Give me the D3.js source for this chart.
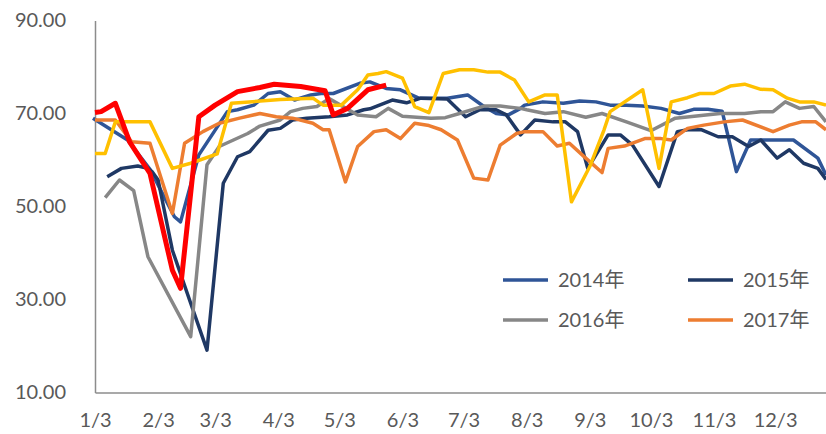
<!DOCTYPE html>
<html>
<head>
<meta charset="utf-8">
<script src="https://cdn.jsdelivr.net/npm/d3@7"></script>
<style>
  body { margin: 0; background: #fff; }
  text { font-family: Lato, "Noto Sans", "Noto Sans CJK SC", sans-serif; fill: #595959; }
</style>
</head>
<body>
<div id="chart"></div>
<script>
// month tick labels, placed on day-of-year
const tickDays = [2, 33, 61, 92, 122, 153, 183, 214, 245, 275, 306, 336];
const tickLabels = ["1/3", "2/3", "3/3", "4/3", "5/3", "6/3", "7/3", "8/3", "9/3", "10/3", "11/3", "12/3"];
const yTicks = [10, 30, 50, 70, 90];

// [day of year, value]
const s2014 = [[1,69.0],[18,64.3],[29,58],[41,47.8],[44,46.7],[53,61.1],[67,70.4],[72,70.8],[80,71.8],[87,74.3],[93,74.7],
  [100,72.9],[108,74],[113,74.3],[119,74.3],[132,76.5],[137,76.8],[145,75.4],[152,75.1],[161,73.3],[175,73.3],[185,74],
  [193,71.5],[199,70],[205,69.7],[211,71.1],[213,71.8],[222,72.5],[232,72.2],[240,72.7],[248,72.5],[255,71.8],[263,71.8],
  [271,71.6],[280,71.1],[289,70],[296,70.9],[303,70.9],[310,70.5],[317,57.5],[324,64.3],[345,64.3],[357,60.4],[361,56.8]];
const s2015 = [[8,56.4],[15,58.2],[23,58.7],[28,58.2],[30,57.5],[33,55.7],[40,40.6],[49,29.2],[57,19.1],[65,55],[72,60.7],
  [78,61.8],[87,66.4],[93,66.8],[99,68.6],[106,69],[117,69.3],[126,69.7],[134,70.8],[137,71],[148,72.9],[155,72.3],
  [162,73.3],[175,73.1],[184,69.3],[191,70.8],[199,70.8],[204,69.7],[211,65.4],[218,68.6],[227,68.2],[233,68.2],
  [239,66.1],[244,58.2],[254,65.4],[260,65.4],[266,63.2],[279,54.3],[288,66.1],[293,66.5],[300,66.5],[308,65],
  [315,65],[323,62.9],[329,64.3],[337,60.4],[343,62.2],[350,59.3],[357,58.2],[361,55.8]];
const s2016 = [[7,51.9],[14,55.7],[21,53.4],[28,39.2],[49,22],[57,59],[63,62.9],[70,64.3],[77,65.7],[83,67.3],[93,68.6],
  [98,70.4],[104,71.1],[111,71.5],[117,73.2],[131,69.7],[140,69.3],[146,71.1],[153,69.4],[167,69],[174,69.1],[181,70],
  [193,71.6],[201,71.6],[211,71.1],[214,70.8],[223,70],[232,70.4],[243,69.2],[251,70],[263,68.2],[275,66.3],[287,69],
  [294,69.3],[302,69.7],[309,70],[321,70],[329,70.4],[335,70.4],[341,72.5],[348,71.1],[355,71.5],[361,68.2]];
const s2017 = [[2,68.6],[12,68.6],[20,63.9],[29,63.6],[40,48.5],[46,63.6],[55,66.1],[63,67.9],[73,69],[83,70],[91,69.3],
  [99,69],[109,67.9],[114,66.5],[117,66.5],[125,55.3],[131,62.9],[139,66.1],[145,66.5],[152,64.6],[159,67.9],[166,67.4],
  [172,66.5],[180,64.3],[188,56.1],[195,55.7],[201,63.2],[209,65.7],[213,66.1],[222,66.1],[229,63],[235,63.6],[243,60.4],
  [251,57.3],[254,62.5],[262,63],[272,64.6],[280,64.6],[285,64.3],[293,66.8],[301,67.5],[311,68.2],[320,68.6],[335,66.1],
  [343,67.5],[349,68.2],[356,68.2],[361,66.5]];
const s2018 = [[2,61.4],[7,61.4],[12,68.2],[29,68.2],[40,58.2],[49,59.3],[62,61.3],[69,72.2],[93,73],[109,73.3],[114,71.8],
  [123,71.8],[131,75.1],[136,78.3],[141,78.6],[145,79],[153,77.6],[159,71.5],[166,70.2],[173,78.6],[181,79.4],[188,79.4],
  [195,78.9],[201,78.9],[208,77.2],[215,72.5],[223,74],[229,74],[236,51],[245,58.6],[252,66.5],[255,70.4],[271,75.1],
  [279,58.2],[285,72.5],[293,73.4],[299,74.3],[306,74.3],[314,75.9],[321,76.3],[329,75.2],[335,75.1],[342,73.3],
  [348,72.5],[355,72.5],[361,71.8]];
const s2019 = [[2,70.2],[5,70.4],[12,72.2],[19,63.9],[29,57.1],[40,36.3],[44,32.4],[53,69.3],[61,71.8],[72,74.7],[83,75.6],
  [90,76.3],[103,75.8],[115,74.9],[119,69.7],[126,71.1],[136,75.1],[145,76.1]];

const series = [
  { name: "2014年", data: s2014, color: "#2F5597", w: 3.5, legend: true },
  { name: "2015年", data: s2015, color: "#1F3864", w: 3.5, legend: true },
  { name: "2016年", data: s2016, color: "#878787", w: 3.5, legend: true },
  { name: "2017年", data: s2017, color: "#ED7D31", w: 3.5, legend: true },
  { name: "2018年", data: s2018, color: "#FFC000", w: 3.5, legend: false },
  { name: "2019年", data: s2019, color: "#FF0000", w: 5, legend: false }
];

const svgW = 826, svgH = 434;
const svg = d3.select("#chart").append("svg")
  .attr("width", svgW)
  .attr("height", svgH);

const x = d3.scaleLinear().domain([2, 361]).range([95, 826]);
const y = d3.scaleLinear().domain([10, 90]).range([392.5, 20.5]);

// y axis
const yAxis = svg.append("g")
  .attr("transform", "translate(95,0)")
  .call(d3.axisLeft(y).tickValues(yTicks).tickSize(0).tickPadding(29).tickFormat(d3.format(".2f")));
yAxis.select(".domain").attr("stroke", "#8c8c8c").attr("stroke-width", 1.5);
yAxis.selectAll("text").style("font-size", "20px").attr("fill", "#595959");

// x axis
const xAxis = svg.append("g")
  .attr("transform", "translate(0,392.5)")
  .call(d3.axisBottom(x).tickValues(tickDays).tickSize(0).tickPadding(20)
    .tickFormat((d, i) => tickLabels[i]));
xAxis.select(".domain").attr("stroke", "#8c8c8c").attr("stroke-width", 1.5);
xAxis.selectAll("text").style("font-size", "20px").attr("fill", "#595959");

// lines
const line = d3.line()
  .x(d => x(d[0]))
  .y(d => y(d[1]));

svg.selectAll(".series")
  .data(series)
  .enter().append("path")
  .attr("class", "series")
  .attr("fill", "none")
  .attr("stroke", d => d.color)
  .attr("stroke-width", d => d.w)
  .attr("stroke-linejoin", "round")
  .attr("d", d => line(d.data));

// legend
const legendItems = series.filter(d => d.legend);
const lg = svg.selectAll(".legend")
  .data(legendItems)
  .enter().append("g")
  .attr("class", "legend")
  .attr("transform", (d, i) => "translate(" + (i % 2 ? 688 : 503) + "," + (i < 2 ? 280 : 320) + ")");
lg.append("line")
  .attr("x1", 0).attr("x2", 45)
  .attr("stroke", d => d.color)
  .attr("stroke-width", 3.5);
lg.append("text")
  .attr("x", 55)
  .attr("dy", "0.35em")
  .style("font-size", "20px")
  .text(d => d.name);
</script>
</body>
</html>
